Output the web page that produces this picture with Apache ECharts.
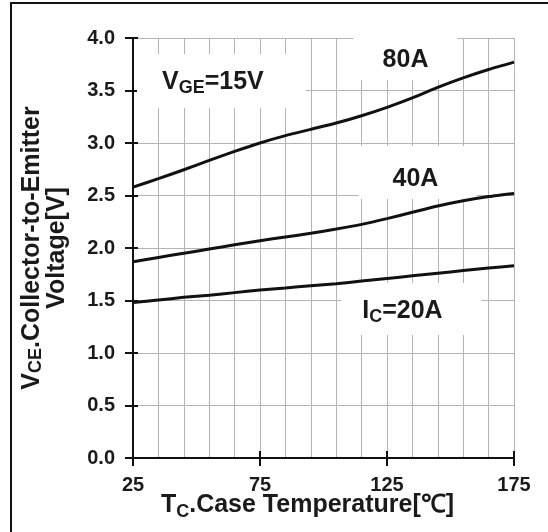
<!DOCTYPE html>
<html>
<head>
<meta charset="utf-8">
<script src="https://cdn.jsdelivr.net/npm/echarts@6/dist/echarts.min.js"></script>
<style>
html,body{margin:0;padding:0;background:#fff;}
#c{width:548px;height:532px;}
</style>
</head>
<body>
<div id="c"></div>
<script>
// Case temperature (°C), sampled every 10 °C
const temps = [25, 35, 45, 55, 65, 75, 85, 95, 105, 115, 125, 135, 145, 155, 165, 175];
// VCE (V) for each collector current
const ic80 = [2.58, 2.66, 2.745, 2.835, 2.92, 3.00, 3.07, 3.13, 3.19, 3.26, 3.34, 3.43, 3.53, 3.62, 3.70, 3.77];
const ic40 = [1.87, 1.91, 1.95, 1.99, 2.03, 2.07, 2.105, 2.14, 2.18, 2.225, 2.28, 2.34, 2.40, 2.45, 2.49, 2.52];
const ic20 = [1.48, 1.505, 1.53, 1.55, 1.575, 1.60, 1.62, 1.64, 1.66, 1.685, 1.71, 1.735, 1.76, 1.785, 1.81, 1.83];
// axis tick labels
const xTickLabels = [25, 75, 125, 175];
const yTickLabels = ['0.0', '0.5', '1.0', '1.5', '2.0', '2.5', '3.0', '3.5', '4.0'];
// annotation texts and their anchor (data coordinates)
const notes = [
  { text: '{m|V}{s|GE}{m|=15V}', at: [59.8, 3.59] },
  { text: '{m|80A}', at: [132.3, 3.81] },
  { text: '{m|40A}', at: [137.0, 2.72] },
  { text: '{m|I}{s|C}{m|=20A}', at: [134.6, 1.42] }
];

const FONT = '"Liberation Sans", Arial, Helvetica, sans-serif';
const notePad = [
  [13, 42, 11, 25],
  [9, 29, 5, 29],
  [18, 38, 5, 34],
  [13, 39, 9, 21]
];
const rich = {
  m: { fontSize: 25, fontWeight: 'bold', fontFamily: FONT, color: '#1a1a1a', lineHeight: 30 },
  s: { fontSize: 18, fontWeight: 'bold', fontFamily: FONT, color: '#1a1a1a', lineHeight: 16, verticalAlign: 'bottom' }
};

const chart = echarts.init(document.getElementById('c'), null, { renderer: 'canvas' });
const mkSeries = (vals) => ({
  type: 'line',
  data: temps.map((t, i) => [t, vals[i]]),
  smooth: 0.2,
  showSymbol: false,
  symbol: 'none',
  lineStyle: { color: '#111', width: 3 },
  z: 3
});
const s20 = mkSeries(ic20);
s20.markPoint = {
  z: 1,
  symbol: 'rect',
  symbolSize: 1,
  silent: true,
  itemStyle: { color: 'rgba(255,255,255,0)' },
  data: notes.map((n, i) => ({
    coord: n.at,
    itemStyle: { color: 'rgba(255,255,255,0)' },
    label: {
      show: true,
      position: 'inside',
      formatter: n.text,
      backgroundColor: '#fff',
      padding: notePad[i],
      rich: rich
    }
  }))
};

const option = {
  animation: false,
  backgroundColor: '#fff',
  grid: { left: 133, right: 34, top: 38, bottom: 74 },
  graphic: [{
    type: 'polyline',
    shape: { points: [[11, 532], [11, 3], [548, 3]] },
    style: { stroke: '#111', lineWidth: 2, fill: null },
    silent: true
  }],
  xAxis: [
    {
      type: 'value', min: 25, max: 175, interval: 10,
      axisLine: { show: true, onZero: false, lineStyle: { color: '#111', width: 2 } },
      axisTick: { show: false },
      axisLabel: { show: false },
      splitLine: { show: true, lineStyle: { color: '#b4b4b4', width: 1 } },
      name: '{m|T}{s|C}{m|.Case Temperature[℃]}',
      nameLocation: 'middle',
      nameGap: 31,
      nameTextStyle: {
        padding: [0, 32, 0, 0],
        rich: {
          m: { fontSize: 25, fontWeight: 'bold', fontFamily: FONT, color: '#1a1a1a', lineHeight: 32 },
          s: { fontSize: 18, fontWeight: 'bold', fontFamily: FONT, color: '#1a1a1a', lineHeight: 18, verticalAlign: 'bottom' }
        }
      }
    },
    {
      type: 'value', min: 25, max: 175, interval: 50, position: 'bottom',
      axisLine: { show: false, onZero: false },
      axisTick: { show: true, length: 8, lineStyle: { color: '#111', width: 2 } },
      axisLabel: {
        show: true, margin: 17,
        formatter: (v) => (xTickLabels.indexOf(v) >= 0 ? String(v) : ''),
        fontSize: 20, fontWeight: 'bold', fontFamily: FONT, color: '#1a1a1a'
      },
      splitLine: { show: false }
    },
    {
      type: 'value', min: 25, max: 175, interval: 50, position: 'bottom',
      axisLine: { show: false, onZero: false },
      axisTick: { show: true, inside: true, length: 7, lineStyle: { color: '#111', width: 2 } },
      axisLabel: { show: false },
      splitLine: { show: false }
    }
  ],
  yAxis: [
    {
      type: 'value', min: 0, max: 4, interval: 0.5,
      axisLine: { show: true, onZero: false, lineStyle: { color: '#111', width: 2 } },
      axisTick: { show: true, length: 8, lineStyle: { color: '#111', width: 2 } },
      axisLabel: {
        margin: 18,
        formatter: (v) => yTickLabels[Math.round(v / 0.5)],
        fontSize: 20, fontWeight: 'bold', fontFamily: FONT, color: '#1a1a1a'
      },
      splitLine: { show: true, lineStyle: { color: '#b4b4b4', width: 1 } },
      name: '{m|V}{s|CE}{m|.Collector-to-Emitter}\n{m|Voltage[V]}',
      nameLocation: 'middle',
      nameRotate: 90,
      nameGap: 63,
      nameTextStyle: {
        align: 'center',
        rich: {
          m: { fontSize: 25, fontWeight: 'bold', fontFamily: FONT, color: '#1a1a1a', lineHeight: 25, align: 'center' },
          s: { fontSize: 18, fontWeight: 'bold', fontFamily: FONT, color: '#1a1a1a', lineHeight: 14, verticalAlign: 'bottom' }
        }
      }
    },
    {
      type: 'value', min: 0, max: 4, interval: 0.5, position: 'left',
      axisLine: { show: false, onZero: false },
      axisTick: { show: true, inside: true, length: 5, lineStyle: { color: '#111', width: 2 } },
      axisLabel: { show: false },
      splitLine: { show: false }
    }
  ],
  series: [mkSeries(ic80), mkSeries(ic40), s20]
};
chart.setOption(option);
</script>
</body>
</html>
